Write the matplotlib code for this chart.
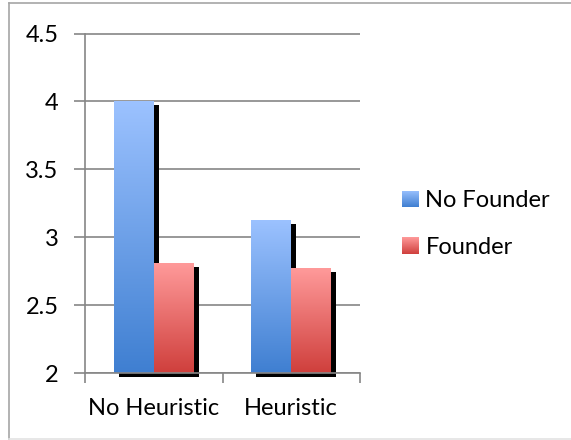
import numpy as np
import matplotlib.pyplot as plt
from matplotlib.colors import LinearSegmentedColormap
from matplotlib.patches import Rectangle
import matplotlib.transforms as mtransforms

plt.rcParams['font.family'] = ['Lato', 'DejaVu Sans']

categories = ['No Heuristic', 'Heuristic']
no_founder = [4.0, 3.13]
founder = [2.81, 2.77]
yticks = [2, 2.5, 3, 3.5, 4, 4.5]
ytick_labels = ['2', '2.5', '3', '3.5', '4', '4.5']

blue_cmap = LinearSegmentedColormap.from_list('blue', ['#3f7fd1', '#9cc2ff'])
red_cmap = LinearSegmentedColormap.from_list('red', ['#cf3f3c', '#ff9a9a'])

fs = 17

fig = plt.figure(figsize=(5.71, 4.40), dpi=100)
ax = fig.add_axes([85 / 571, 67 / 440, 275 / 571, 339.5 / 440])

x = np.arange(len(categories))
w = 0.29
base = 2.0

# black drop shadow, shifted right/down in pixels
shadow_tr = ax.transData + mtransforms.ScaledTranslation(5 / 100, -4 / 100, fig.dpi_scale_trans)

grad = np.linspace(0, 1, 256).reshape(-1, 1)

def gradient_bars(xs, vals, cmap):
    bars = ax.bar(xs, np.array(vals) - base, w, bottom=base, color='none',
                  edgecolor='none', zorder=3)
    for b in bars:
        sh = Rectangle((b.get_x(), b.get_y()), b.get_width(), b.get_height(),
                       facecolor='black', edgecolor='none', transform=shadow_tr,
                       zorder=2, clip_on=False)
        ax.add_patch(sh)
        x0, y0 = b.get_x(), b.get_y()
        im = ax.imshow(grad, cmap=cmap, origin='lower', aspect='auto',
                       extent=[x0, x0 + b.get_width(), y0, y0 + b.get_height()],
                       zorder=3, interpolation='bilinear')
        im.set_clip_path(b)
    return bars

gradient_bars(x - w / 2, no_founder, blue_cmap)
gradient_bars(x + w / 2, founder, red_cmap)

ax.set_xlim(-0.5, 1.5)
ax.set_ylim(2, 4.5)
ax.set_yticks(yticks)
ax.set_yticklabels(ytick_labels)
ax.set_xticks(x)
ax.set_xticklabels(categories)
ax.set_xticks([-0.5, 0.5, 1.5], minor=True)

grid_c = '#868686'
ax.yaxis.grid(True, color=grid_c, linewidth=1.2, zorder=0)
ax.set_axisbelow(True)
for s in ['top', 'right']:
    ax.spines[s].set_visible(False)
for s in ['left', 'bottom']:
    ax.spines[s].set_color(grid_c)
    ax.spines[s].set_linewidth(1.2)
    ax.spines[s].set_zorder(4)

ax.tick_params(axis='y', length=8, width=1.2, color=grid_c, pad=11, labelsize=fs)
ax.tick_params(axis='x', which='major', length=0, pad=18, labelsize=fs)
ax.tick_params(axis='x', which='minor', length=7, width=1.2, color=grid_c)

# legend
handles = [Rectangle((0, 0), 1, 1, facecolor='#6c9ee8'),
           Rectangle((0, 0), 1, 1, facecolor='#e86a68')]
leg = fig.legend(handles, ['No Founder', 'Founder'], loc='center left',
                 bbox_to_anchor=(381 / 571, 1 - 224 / 440), frameon=False,
                 fontsize=fs, handlelength=0.68, handleheight=0.68,
                 handletextpad=0.3, labelspacing=1.08)
for patch in leg.get_patches():
    patch.set_facecolor('none')

# gradient swatches over the legend handles
fig.canvas.draw()
for patch, cmap in zip(leg.get_patches(), [blue_cmap, red_cmap]):
    bb = patch.get_window_extent()
    ax_sw = fig.add_axes([bb.x0 / fig.bbox.width, bb.y0 / fig.bbox.height,
                          bb.width / fig.bbox.width, bb.height / fig.bbox.height])
    ax_sw.imshow(grad, cmap=cmap, origin='lower', aspect='auto')
    ax_sw.set_axis_off()

# outer chart frame
fig.add_artist(plt.Line2D([9 / 571, 9 / 571], [1 / 440, 1 - 3.5 / 440], color='#a6a6a6', lw=1.2))
fig.add_artist(plt.Line2D([9 / 571, 1], [1 - 3.5 / 440, 1 - 3.5 / 440], color='#a6a6a6', lw=1.2))
fig.add_artist(plt.Line2D([9 / 571, 1], [1 / 440, 1 / 440], color='#e3e3e3', lw=1.2))

fig.savefig('out.png', dpi=100)
